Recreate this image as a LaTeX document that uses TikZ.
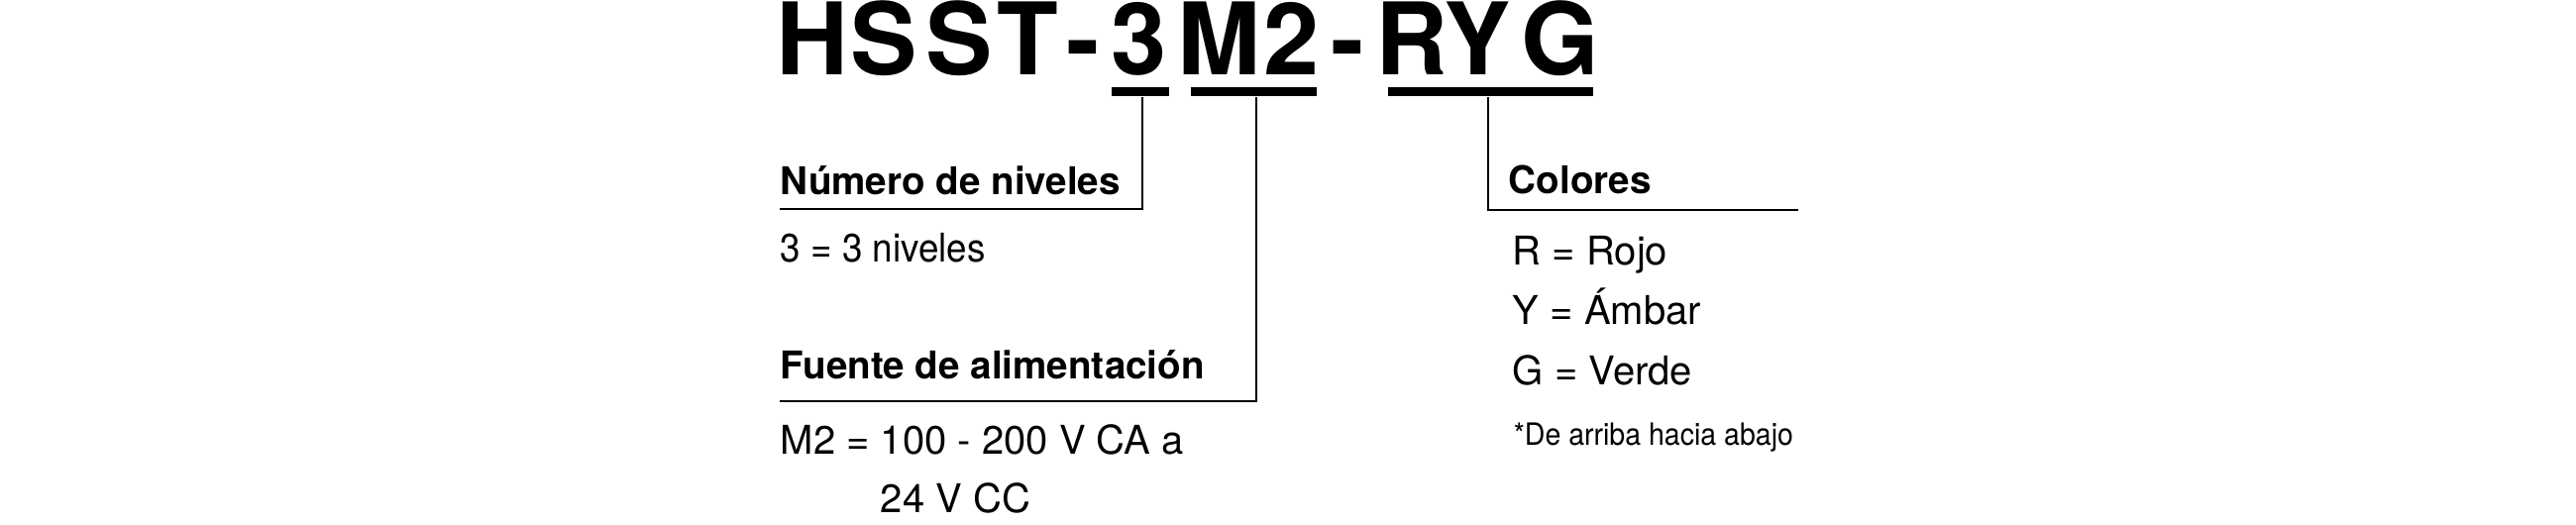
\documentclass[tikz,border=0pt]{standalone}
\usepackage{fontspec}
\setmainfont{TeX Gyre Heros}
\newfontfamily\condfont{TeX Gyre Heros}[FakeStretch=0.92]
\newfontfamily\notefont{TeX Gyre Heros}[FakeStretch=0.92]
\begin{document}
\begin{tikzpicture}[x=0.25pt,y=-0.25pt,
  titlechar/.style={anchor=base,inner sep=0pt,font=\fontsize{25.25pt}{30pt}\selectfont\bfseries},
  head/.style={anchor=base west,inner sep=0pt,font=\fontsize{9.65pt}{12pt}\selectfont\bfseries},
  txt/.style={anchor=base west,inner sep=0pt,font=\fontsize{10pt}{12pt}\selectfont},
  condtxt/.style={anchor=base west,inner sep=0pt,font=\fontsize{10pt}{12pt}\condfont},
  notetxt/.style={anchor=base west,inner sep=0pt,font=\fontsize{7.75pt}{9pt}\notefont},
  bar/.style={fill=black,inner sep=0pt,minimum height=2.25pt},
  link/.style={line width=0.55pt}]
\useasboundingbox (0,0) rectangle (2600,530);
% title
\node[titlechar] (t1) at (820,76) {H};
\node[titlechar] (t2) at (892,76) {S};
\node[titlechar] (t3) at (968,76) {S};
\node[titlechar] (t4) at (1037,76) {T};
\node[titlechar] (t5) at (1093,76) {-};
\node[titlechar] (t6) at (1150,76) {3};
\node[titlechar] (t7) at (1231,76) {M};
\node[titlechar] (t8) at (1304,76) {2};
\node[titlechar] (t9) at (1360,76) {-};
\node[titlechar] (t10) at (1425,76) {R};
\node[titlechar] (t11) at (1491,76) {Y};
\node[titlechar] (t12) at (1575,76) {G};
% underline bars
\node[bar,minimum width=14.5pt] (u3) at (1151,92.5) {};
\node[bar,minimum width=31.75pt] (uM) at (1265,92.5) {};
\node[bar,minimum width=51.75pt] (uR) at (1504.5,92.5) {};
% left column
\node[head] (h1) at (787,197) {Número de niveles};
\node[condtxt] (v1) at (787,265) {3 = 3 niveles};
\node[head] (h2) at (787,383) {Fuente de alimentación};
\node[txt] (v2) at (787,459) {M2 = 100 - 200 V CA a};
\node[txt] (v3) at (787,518) {\phantom{M2 = }24 V CC};
% right column
\node[head] (h3) at (1522,196) {Colores};
\node[txt] (r1) at (1526,268) {R = Rojo};
\node[txt] (r2) at (1526,328) {Y = Ámbar};
\node[txt] (r3) at (1526,389) {G = Verde};
\node[notetxt] (r4) at (1527,450) {*De arriba hacia abajo};
% connectors
\coordinate (k3) at (1153,211);
\coordinate (e3) at (787,211);
\coordinate (kM) at (1268,405);
\coordinate (eM) at (787,405);
\coordinate (kR) at (1502,212);
\coordinate (eR) at (1815,212);
\draw[link] (u3.south -| k3) -- (k3) -- (e3);
\draw[link] (uM.south -| kM) -- (kM) -- (eM);
\draw[link] (uR.south -| kR) -- (kR) -- (eR);
\end{tikzpicture}
\end{document}
